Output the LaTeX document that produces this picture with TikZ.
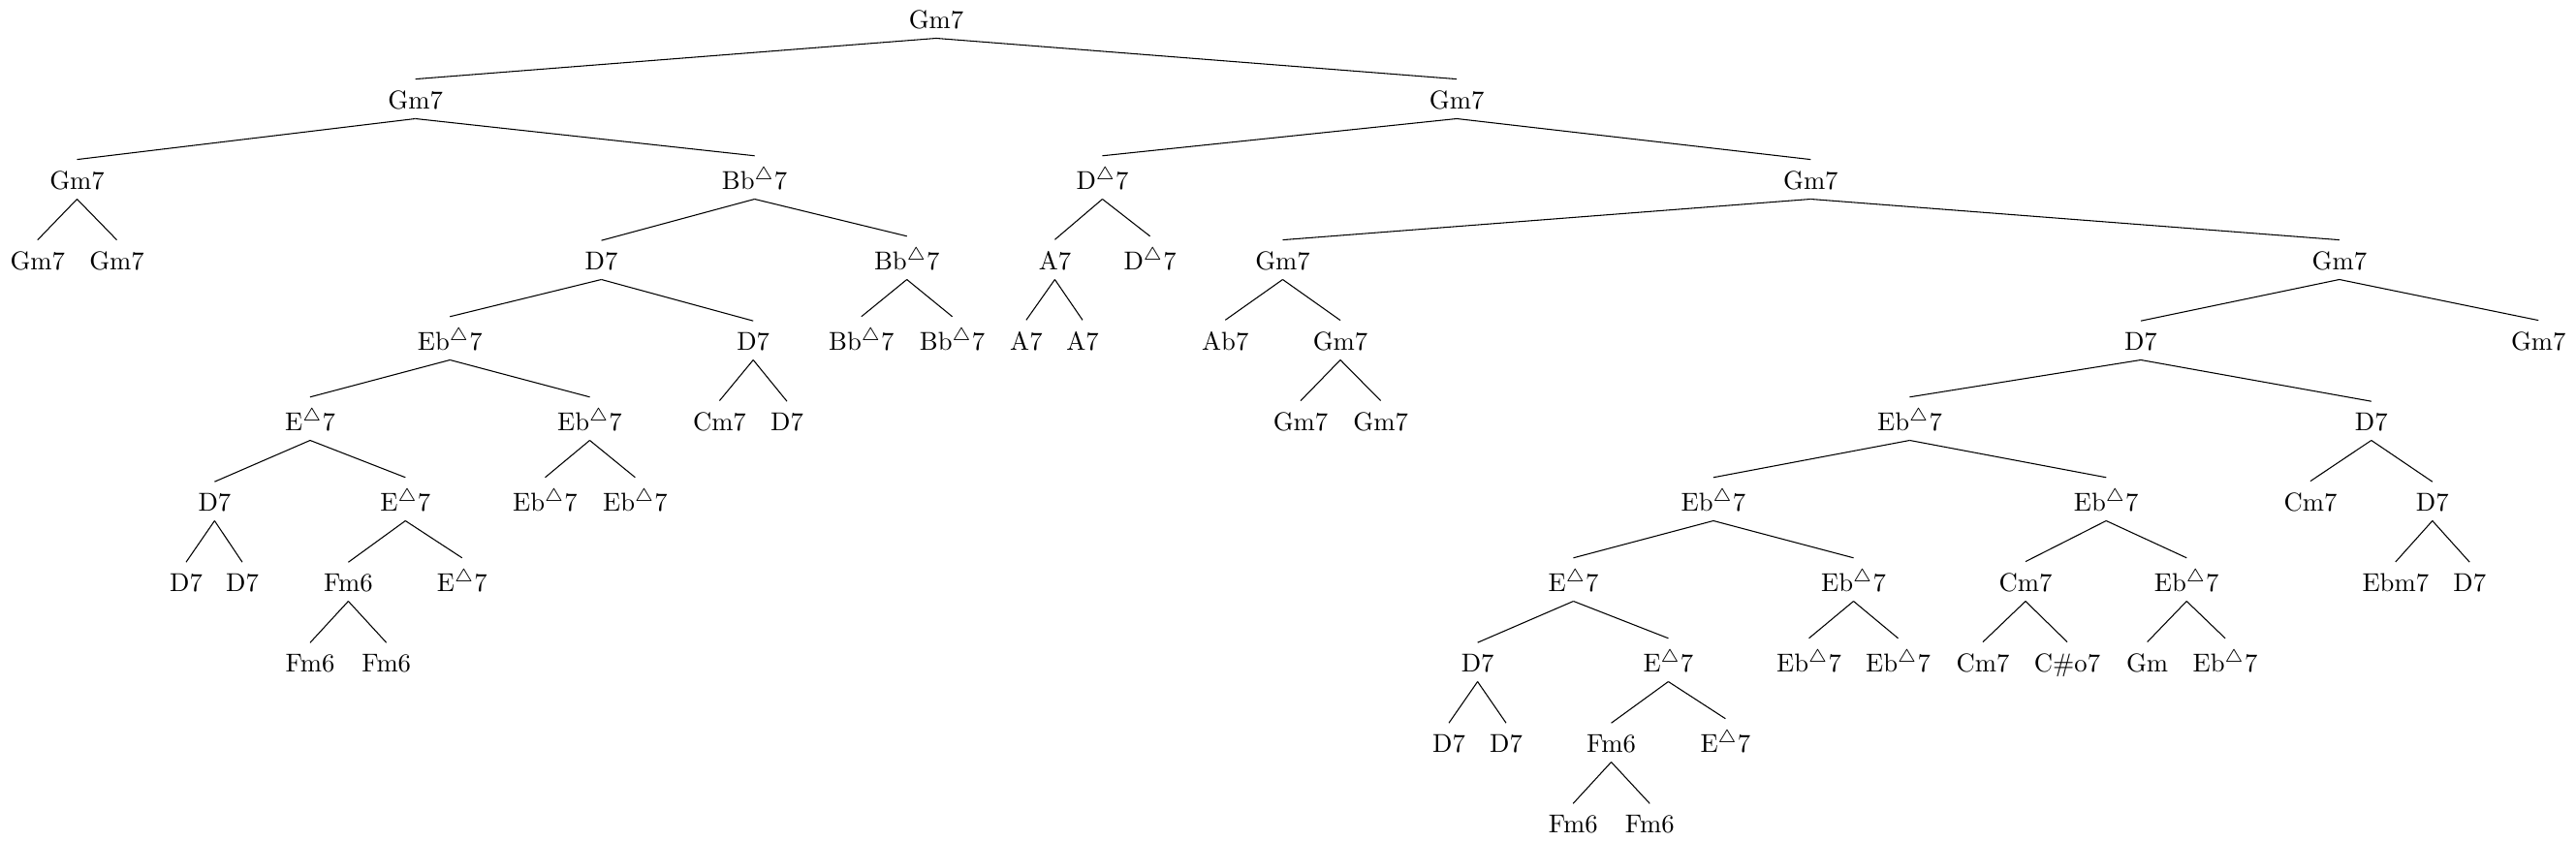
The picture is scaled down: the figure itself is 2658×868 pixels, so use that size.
\documentclass[tikz,border=0pt]{standalone}
\usepackage{amssymb}
\newcommand{\tri}{$^\triangle$}
\begin{document}
\begin{tikzpicture}[x=0.37495pt,y=-0.37495pt,
  ch/.style={anchor=base,inner sep=3.33pt}]
\useasboundingbox (0,0) rectangle (2658,868);
\def\Bz{29.5}\def\Ba{112.5}\def\Bb{195.5}\def\Bc{278.5}\def\Bd{361.5}
\def\Be{444.5}\def\Bf{527.5}\def\Bg{610.5}\def\Bh{693.5}\def\Bi{776.5}\def\Bj{859.5}
% level 0-1
\node[ch] (r) at (966,\Bz) {Gm7};
\node[ch] (a) at (428.6,\Ba) {Gm7};
\node[ch] (b) at (1503.1,\Ba) {Gm7};
% level 2
\node[ch] (aa) at (79.5,\Bb) {Gm7};
\node[ch] (ab) at (778.6,\Bb) {Bb\tri7};
\node[ch] (ba) at (1137.5,\Bb) {D\tri7};
\node[ch] (bb) at (1868.3,\Bb) {Gm7};
% level 3
\node[ch] (aaa) at (38.8,\Bc) {Gm7};
\node[ch] (aab) at (120.5,\Bc) {Gm7};
\node[ch] (aba) at (620.5,\Bc) {D7};
\node[ch] (abb) at (935.7,\Bc) {Bb\tri7};
\node[ch] (baa) at (1088.4,\Bc) {A7};
\node[ch] (bab) at (1186.6,\Bc) {D\tri7};
\node[ch] (bba) at (1323.5,\Bc) {Gm7};
\node[ch] (bbb) at (2413.8,\Bc) {Gm7};
% level 4
\node[ch] (abaa) at (464.3,\Bd) {Eb\tri7};
\node[ch] (abab) at (777.2,\Bd) {D7};
\node[ch] (abba) at (888.8,\Bd) {Bb\tri7};
\node[ch] (abbb) at (982.6,\Bd) {Bb\tri7};
\node[ch] (baaa) at (1058.9,\Bd) {A7};
\node[ch] (baab) at (1117,\Bd) {A7};
\node[ch] (bbaa) at (1264.3,\Bd) {Ab7};
\node[ch] (bbab) at (1383,\Bd) {Gm7};
\node[ch] (bbba) at (2208.9,\Bd) {D7};
\node[ch] (bbbb) at (2619.2,\Bd) {Gm7};
% level 5
\node[ch] (abaaa) at (320,\Be) {E\tri7};
\node[ch] (abaab) at (608.5,\Be) {Eb\tri7};
\node[ch] (ababa) at (742.4,\Be) {Cm7};
\node[ch] (ababb) at (812,\Be) {D7};
\node[ch] (bbaba) at (1342,\Be) {Gm7};
\node[ch] (bbabb) at (1424.6,\Be) {Gm7};
\node[ch] (bbbaa) at (1970.5,\Be) {Eb\tri7};
\node[ch] (bbbab) at (2446.8,\Be) {D7};
% level 6
\node[ch] (abaaaa) at (221.4,\Bf) {D7};
\node[ch] (abaaab) at (418.3,\Bf) {E\tri7};
\node[ch] (abaaba) at (562.5,\Bf) {Eb\tri7};
\node[ch] (abaabb) at (655.4,\Bf) {Eb\tri7};
\node[ch] (bbbaaa) at (1767.9,\Bf) {Eb\tri7};
\node[ch] (bbbaab) at (2173.2,\Bf) {Eb\tri7};
\node[ch] (bbbaba) at (2383.9,\Bf) {Cm7};
\node[ch] (bbbabb) at (2509.8,\Bf) {D7};
% level 7
\node[ch] (abaaaaa) at (192,\Bg) {D7};
\node[ch] (abaaaab) at (250,\Bg) {D7};
\node[ch] (abaaaba) at (359.4,\Bg) {Fm6};
\node[ch] (abaaabb) at (476.8,\Bg) {E\tri7};
\node[ch] (bbbaaaa) at (1623.5,\Bg) {E\tri7};
\node[ch] (bbbaaab) at (1912.5,\Bg) {Eb\tri7};
\node[ch] (bbbaaba) at (2090,\Bg) {Cm7};
\node[ch] (bbbaabb) at (2256.2,\Bg) {Eb\tri7};
\node[ch] (bbbabba) at (2471.8,\Bg) {Ebm7};
\node[ch] (bbbabbb) at (2548.2,\Bg) {D7};
% level 8
\node[ch] (abaaabaa) at (320,\Bh) {Fm6};
\node[ch] (abaaabab) at (398.7,\Bh) {Fm6};
\node[ch] (bbbaaaaa) at (1524.6,\Bh) {D7};
\node[ch] (bbbaaaab) at (1721.4,\Bh) {E\tri7};
\node[ch] (bbbaaaba) at (1866.5,\Bh) {Eb\tri7};
\node[ch] (bbbaaabb) at (1958.5,\Bh) {Eb\tri7};
\node[ch] (bbbaabaa) at (2046,\Bh) {Cm7};
\node[ch] (bbbaabab) at (2133,\Bh) {C\#o7};
\node[ch] (bbbaabba) at (2215.6,\Bh) {Gm};
\node[ch] (bbbaabbb) at (2296,\Bh) {Eb\tri7};
% level 9
\node[ch] (bbbaaaaaa) at (1495,\Bi) {D7};
\node[ch] (bbbaaaaab) at (1554,\Bi) {D7};
\node[ch] (bbbaaaaba) at (1662.5,\Bi) {Fm6};
\node[ch] (bbbaaaabb) at (1780.4,\Bi) {E\tri7};
% level 10
\node[ch] (bbbaaaabaa) at (1623.2,\Bj) {Fm6};
\node[ch] (bbbaaaabab) at (1702.2,\Bj) {Fm6};
% edges
\foreach \p/\c in {r/a,r/b,a/aa,a/ab,b/ba,b/bb,
  aa/aaa,aa/aab,ab/aba,ab/abb,ba/baa,ba/bab,bb/bba,bb/bbb,
  aba/abaa,aba/abab,abb/abba,abb/abbb,baa/baaa,baa/baab,bba/bbaa,bba/bbab,bbb/bbba,bbb/bbbb,
  abaa/abaaa,abaa/abaab,abab/ababa,abab/ababb,bbab/bbaba,bbab/bbabb,bbba/bbbaa,bbba/bbbab,
  abaaa/abaaaa,abaaa/abaaab,abaab/abaaba,abaab/abaabb,bbbaa/bbbaaa,bbbaa/bbbaab,bbbab/bbbaba,bbbab/bbbabb,
  abaaaa/abaaaaa,abaaaa/abaaaab,abaaab/abaaaba,abaaab/abaaabb,bbbaaa/bbbaaaa,bbbaaa/bbbaaab,
  bbbaab/bbbaaba,bbbaab/bbbaabb,bbbabb/bbbabba,bbbabb/bbbabbb,
  abaaaba/abaaabaa,abaaaba/abaaabab,bbbaaaa/bbbaaaaa,bbbaaaa/bbbaaaab,bbbaaab/bbbaaaba,bbbaaab/bbbaaabb,
  bbbaaba/bbbaabaa,bbbaaba/bbbaabab,bbbaabb/bbbaabba,bbbaabb/bbbaabbb,
  bbbaaaaa/bbbaaaaaa,bbbaaaaa/bbbaaaaab,bbbaaaab/bbbaaaaba,bbbaaaab/bbbaaaabb,
  bbbaaaaba/bbbaaaabaa,bbbaaaaba/bbbaaaabab}
  \draw (\p.south) -- ([yshift=1pt]\c.north);
\end{tikzpicture}
\end{document}
